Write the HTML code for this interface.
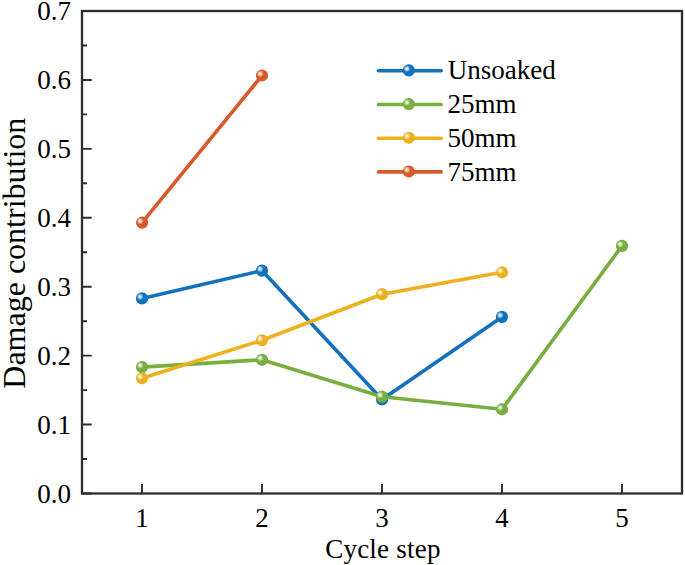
<!DOCTYPE html>
<html><head><meta charset="utf-8">
<style>
html,body{margin:0;padding:0;background:#fff;width:685px;height:565px;overflow:hidden}
svg{display:block}
text{font-family:"Liberation Serif",serif;fill:#000}
</style></head><body>
<svg width="685" height="565" viewBox="0 0 685 565">
<defs>
<radialGradient id="hl" cx="0.5" cy="0.5" r="0.5">
<stop offset="0" stop-color="#fff" stop-opacity="1"/>
<stop offset="0.35" stop-color="#fff" stop-opacity="0.75"/>
<stop offset="1" stop-color="#fff" stop-opacity="0"/>
</radialGradient>
<g id="hlg"><circle cx="-1.9" cy="-1.7" r="3.5" fill="url(#hl)"/></g>
</defs>
<!-- axes frame -->
<g stroke="#2c2c2c" stroke-width="2.3" fill="none">
<rect x="82" y="11" width="600" height="482.5"/>
</g>
<!-- y ticks -->
<g stroke="#2c2c2c" stroke-width="1.9">
<path d="M82 493.5H91.7M82 424.57H91.7M82 355.64H91.7M82 286.71H91.7M82 217.79H91.7M82 148.86H91.7M82 79.93H91.7M82 11H91.7"/>
<path d="M82 459.04H87M82 390.11H87M82 321.18H87M82 252.25H87M82 183.32H87M82 114.39H87M82 45.46H87"/>
<path d="M142 493.5V484M262 493.5V484M382 493.5V484M502 493.5V484M622 493.5V484"/>
</g>
<!-- y tick labels -->
<g font-size="27" text-anchor="end">
<text x="71" y="502.5">0.0</text>
<text x="71" y="433.6">0.1</text>
<text x="71" y="364.6">0.2</text>
<text x="71" y="295.7">0.3</text>
<text x="71" y="226.8">0.4</text>
<text x="71" y="157.9">0.5</text>
<text x="71" y="88.9">0.6</text>
<text x="71" y="20">0.7</text>
</g>
<g font-size="27" text-anchor="middle">
<text x="142" y="526.5">1</text>
<text x="262" y="526.5">2</text>
<text x="382" y="526.5">3</text>
<text x="502" y="526.5">4</text>
<text x="622" y="526.5">5</text>
</g>
<text x="383" y="557.8" font-size="27" text-anchor="middle" letter-spacing="0.25">Cycle step</text>
<text transform="translate(25.3 253.2) rotate(-90)" font-size="32" text-anchor="middle">Damage contribution</text>

<!-- series -->
<g fill="none" stroke-width="3.6" stroke-linejoin="round" stroke-linecap="round">
<polyline stroke="#1271BD" points="142,298.4 262,270.6 382,399.4 502,316.9"/>
</g>
<g fill="#1271BD">
<circle cx="142" cy="298.4" r="6.1"/><circle cx="262" cy="270.6" r="6.1"/><circle cx="382" cy="399.4" r="6.1"/><circle cx="502" cy="316.9" r="6.1"/>
</g>
<g>
<use href="#hlg" x="142" y="298.4"/><use href="#hlg" x="262" y="270.6"/><use href="#hlg" x="382" y="399.4"/><use href="#hlg" x="502" y="316.9"/>
</g>

<polyline fill="none" stroke-width="3.6" stroke-linejoin="round" stroke-linecap="round" stroke="#78AD40" points="142,367.1 262,359.8 382,396.7 502,409.3 622,245.9"/>
<g fill="#78AD40">
<circle cx="142" cy="367.1" r="6.1"/><circle cx="262" cy="359.8" r="6.1"/><circle cx="382" cy="396.7" r="6.1"/><circle cx="502" cy="409.3" r="6.1"/><circle cx="622" cy="245.9" r="6.1"/>
</g>
<g>
<use href="#hlg" x="142" y="367.1"/><use href="#hlg" x="262" y="359.8"/><use href="#hlg" x="382" y="396.7"/><use href="#hlg" x="502" y="409.3"/><use href="#hlg" x="622" y="245.9"/>
</g>

<polyline fill="none" stroke-width="3.6" stroke-linejoin="round" stroke-linecap="round" stroke="#EDB120" points="142,378.3 262,340.3 382,294.2 502,272.3"/>
<g fill="#EDB120">
<circle cx="142" cy="378.3" r="6.1"/><circle cx="262" cy="340.3" r="6.1"/><circle cx="382" cy="294.2" r="6.1"/><circle cx="502" cy="272.3" r="6.1"/>
</g>
<g>
<use href="#hlg" x="142" y="378.3"/><use href="#hlg" x="262" y="340.3"/><use href="#hlg" x="382" y="294.2"/><use href="#hlg" x="502" y="272.3"/>
</g>

<polyline fill="none" stroke-width="3.6" stroke-linejoin="round" stroke-linecap="round" stroke="#D85A2A" points="142.1,222.7 262,75.5"/>
<g fill="#D85A2A">
<circle cx="142.1" cy="222.7" r="6.1"/><circle cx="262" cy="75.5" r="6.1"/>
</g>
<g>
<use href="#hlg" x="142.1" y="222.7"/><use href="#hlg" x="262" y="75.5"/>
</g>

<!-- legend -->
<g fill="none" stroke-width="3.6" stroke-linecap="round">
<path stroke="#1271BD" d="M378.5 70.8H441.2"/>
<path stroke="#78AD40" d="M378.5 104.5H441.2"/>
<path stroke="#EDB120" d="M378.5 138.2H441.2"/>
<path stroke="#D85A2A" d="M378.5 171.9H441.2"/>
</g>
<circle cx="408.8" cy="70.4" r="6.1" fill="#1271BD"/><use href="#hlg" x="408.8" y="70.4"/>
<circle cx="408.8" cy="104.1" r="6.1" fill="#78AD40"/><use href="#hlg" x="408.8" y="104.1"/>
<circle cx="408.8" cy="137.8" r="6.1" fill="#EDB120"/><use href="#hlg" x="408.8" y="137.8"/>
<circle cx="408.8" cy="171.5" r="6.1" fill="#D85A2A"/><use href="#hlg" x="408.8" y="171.5"/>
<g font-size="27">
<text x="447.7" y="78.9">Unsoaked</text>
<text x="447.5" y="113.2">25mm</text>
<text x="447.5" y="146.9">50mm</text>
<text x="447.5" y="180.6">75mm</text>
</g>
</svg>
</body></html>
